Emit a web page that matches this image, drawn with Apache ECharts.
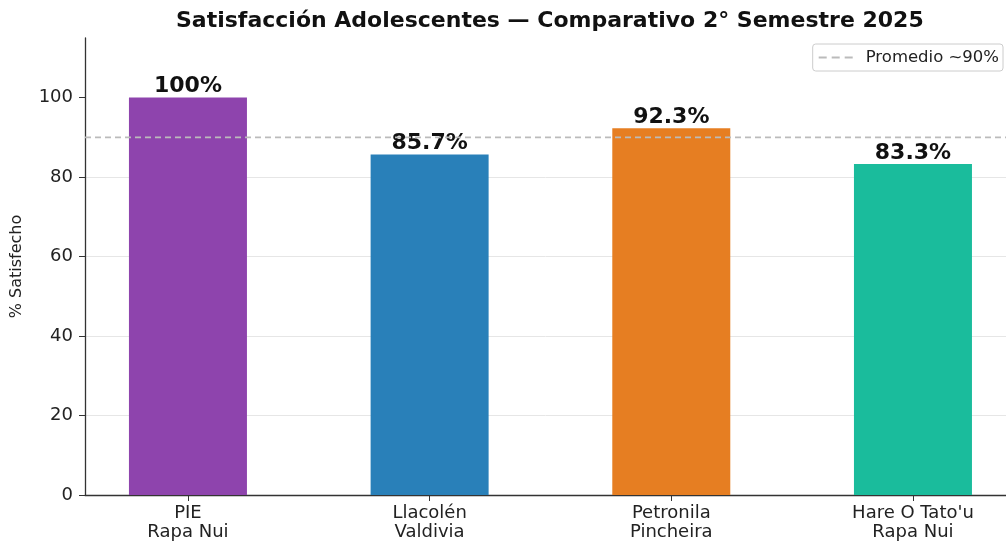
<!DOCTYPE html>
<html>
<head>
<meta charset="utf-8">
<script src="https://cdn.jsdelivr.net/npm/echarts@6/dist/echarts.min.js"></script>
<style>html,body{margin:0;padding:0;background:#fff}#c{width:1006px;height:542px}</style>
</head>
<body>
<div id="c"></div>
<script>
const categories = ["PIE\nRapa Nui", "Llacolén\nValdivia", "Petronila\nPincheira", "Hare O Tato'u\nRapa Nui"];
const values = [100, 85.7, 92.3, 83.3];
const valueLabels = ["100%", "85.7%", "92.3%", "83.3%"];
const colors = ["#8e44ad", "#2980b9", "#e67e22", "#1abc9c"];
const average = 90;
const averageName = "Promedio ~90%";
const yTicks = [0, 20, 40, 60, 80, 100];

const font = "DejaVu Sans";
const xMin = -0.426, xMax = 3.385;
const chart = echarts.init(document.getElementById('c'));
const barData = values.map((v, i) => ({
  value: [i, v],
  itemStyle: { color: colors[i] },
  label: { formatter: valueLabels[i] }
}));
chart.setOption({
  animation: false,
  title: {
    text: "Satisfacción Adolescentes — Comparativo 2° Semestre 2025",
    left: 171, top: 5,
    textStyle: { fontFamily: font, fontWeight: 'bold', fontSize: 22, color: '#111' }
  },
  legend: {
    right: 3, top: 44,
    data: [{ name: averageName, icon: 'path://M0,0h8v2H0z M13,0h8v2H13z M26,0h8v2H26z' }],
    itemWidth: 34, itemHeight: 2, itemGap: 8,
    padding: [5, 4, 5, 6],
    borderColor: '#cccccc', borderWidth: 1, borderRadius: 3,
    textStyle: { fontFamily: font, fontSize: 16.5, color: '#222', padding: [0, 0, 0, 8] }
  },
  grid: { left: 85, right: 0, top: 38, bottom: 46 },
  xAxis: {
    type: 'value', min: xMin, max: xMax,
    axisLine: { show: true, onZero: false, lineStyle: { color: '#333', width: 1.3 } },
    axisTick: { show: true, customValues: [0, 1, 2, 3], length: 6, lineStyle: { color: '#333' } },
    axisLabel: {
      customValues: [0, 1, 2, 3],
      formatter: v => categories[Math.round(v)],
      fontFamily: font, fontSize: 18, color: '#222', lineHeight: 19, margin: 9
    },
    splitLine: { show: false }
  },
  yAxis: {
    type: 'value', min: 0, max: 115,
    name: "% Satisfecho", nameLocation: 'middle', nameGap: 60, nameRotate: 90,
    nameTextStyle: { fontFamily: font, fontSize: 16, color: '#222' },
    axisLine: { show: true, onZero: false, lineStyle: { color: '#333', width: 1.3 } },
    axisTick: { show: true, customValues: yTicks, length: 6, lineStyle: { color: '#333' } },
    axisLabel: { customValues: yTicks, fontFamily: font, fontSize: 18, color: '#222', margin: 12 },
    splitLine: { show: true, showMaxLine: false, showMinLine: false, lineStyle: { color: '#e6e6e6', width: 1 } }
  },
  series: [
    {
      type: 'bar', data: barData, barWidth: 118,
      label: { show: true, position: 'top', distance: 0, fontFamily: font, fontWeight: 'bold', fontSize: 22, color: '#111' }
    },
    {
      name: averageName, type: 'line', symbol: 'none', showSymbol: false,
      data: [[xMin, average], [xMax, average]],
      lineStyle: { color: '#bbbbbb', width: 1.6, type: [6, 4] },
      itemStyle: { color: '#bbbbbb' },
      z: 5
    }
  ]
});
</script>
</body>
</html>
